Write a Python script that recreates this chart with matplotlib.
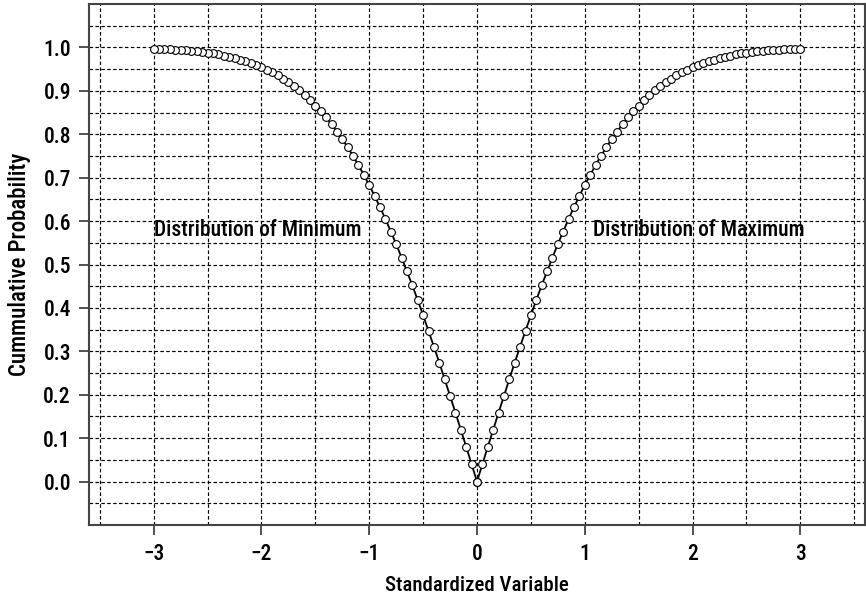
import matplotlib.pyplot as plt
from matplotlib import font_manager

# standardized variable (right branch), step 0.05
z = [0.00, 0.05, 0.10, 0.15, 0.20, 0.25, 0.30, 0.35, 0.40, 0.45,
     0.50, 0.55, 0.60, 0.65, 0.70, 0.75, 0.80, 0.85, 0.90, 0.95,
     1.00, 1.05, 1.10, 1.15, 1.20, 1.25, 1.30, 1.35, 1.40, 1.45,
     1.50, 1.55, 1.60, 1.65, 1.70, 1.75, 1.80, 1.85, 1.90, 1.95,
     2.00, 2.05, 2.10, 2.15, 2.20, 2.25, 2.30, 2.35, 2.40, 2.45,
     2.50, 2.55, 2.60, 2.65, 2.70, 2.75, 2.80, 2.85, 2.90, 2.95,
     3.00]

# cumulative probability of the maximum (mirrored for the minimum)
prob = [0.000, 0.040, 0.080, 0.119, 0.159, 0.197, 0.236, 0.274, 0.311, 0.347,
        0.383, 0.418, 0.452, 0.484, 0.516, 0.547, 0.576, 0.605, 0.632, 0.658,
        0.683, 0.706, 0.729, 0.750, 0.770, 0.789, 0.806, 0.823, 0.839, 0.853,
        0.866, 0.879, 0.890, 0.901, 0.911, 0.920, 0.928, 0.936, 0.943, 0.949,
        0.955, 0.960, 0.964, 0.968, 0.972, 0.976, 0.979, 0.981, 0.984, 0.986,
        0.988, 0.989, 0.991, 0.992, 0.993, 0.994, 0.995, 0.996, 0.996, 0.997,
        0.997]

z_min = [-v for v in z]


def narrow_font():
    # look for a condensed sans face, otherwise fall back to Roboto
    wanted = ['robotocondensed-medium', 'robotocondensed-regular',
              'liberationsansnarrow-regular', 'liberationsansnarrow-bold',
              'opensans_condensed-medium', 'opensanscondensed',
              'dejavusanscondensed.ttf', 'notosansdisplay-condensed',
              'notosans-condensedmedium', 'notosans-condensed']
    files = [f.fname for f in font_manager.fontManager.ttflist]
    for key in wanted:
        for fn in files:
            if key in fn.lower().replace(' ', ''):
                return font_manager.FontProperties(fname=fn)
    return font_manager.FontProperties(family='Roboto', weight='medium')


fp = narrow_font()

fig = plt.figure(figsize=(8.66, 5.97), dpi=100)
ax = fig.add_axes([89 / 866, 1 - 525 / 597, 776 / 866, 521 / 597])

style = dict(color='black', lw=1.3, marker='o', markersize=5.6,
             markerfacecolor='white', markeredgecolor='black', markeredgewidth=0.8)
ax.plot(z_min, prob, **style, zorder=3)
ax.plot(z, prob, **style, zorder=3)

ax.set_xlim(-3.6, 3.6)
ax.set_ylim(-0.1, 1.1)
ax.set_xticks([-3, -2, -1, 0, 1, 2, 3])
ax.set_xticklabels(['\u22123', '\u22122', '\u22121', '0', '1', '2', '3'])
ax.set_yticks([i / 10 for i in range(11)])
ax.set_yticklabels(['%.1f' % (i / 10) for i in range(11)])
for lab in ax.get_xticklabels() + ax.get_yticklabels():
    lab.set_fontproperties(fp)
    lab.set_fontsize(15.5)

# dotted grid every half unit / 0.05
for gx in [-3.5 + 0.5 * i for i in range(15)]:
    ax.axvline(gx, color='black', lw=0.85, ls=(0, (3, 2)), zorder=1)
for gy in [-0.05 + 0.05 * i for i in range(23)]:
    ax.axhline(gy, color='black', lw=0.85, ls=(0, (3, 2)), zorder=1)

for side in ['left', 'bottom', 'right', 'top']:
    ax.spines[side].set_color('#444444')
    ax.spines[side].set_linewidth(1.5)
ax.tick_params(axis='both', direction='out', length=7, width=1.2,
               color='#333333', pad=6)
ax.tick_params(top=False, right=False)

ax.text(-3.0, 0.58, 'Distribution of Minimum', fontproperties=fp, fontsize=15.5,
        ha='left', va='center')
ax.text(3.04, 0.58, 'Distribution of Maximum', fontproperties=fp, fontsize=15.5,
        ha='right', va='center')

ax.set_xlabel('Standardized Variable', fontproperties=fp, fontsize=15, labelpad=8)
ax.set_ylabel('Cummulative Probability', fontproperties=fp, fontsize=16.5, labelpad=9)

plt.savefig('out.png', dpi=100)
